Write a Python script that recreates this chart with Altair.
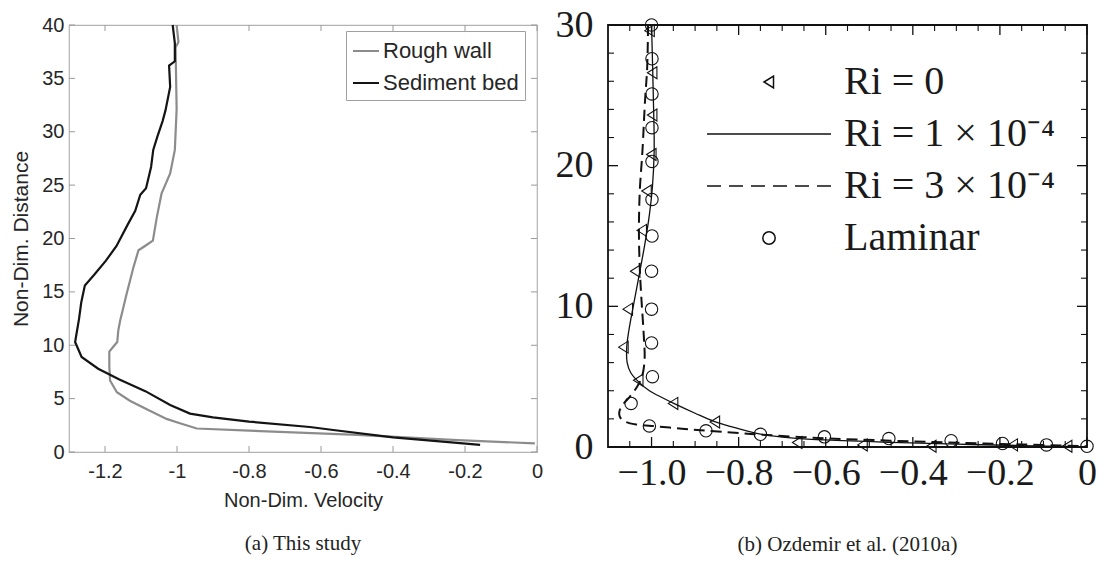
import altair as alt
import pandas as pd

# ---------------- (a) This study ----------------
rough_v = [-1.001, -0.996, -1.004, -1.003, -1.001, -1.006, -1.019, -1.043, -1.056, -1.067,
           -1.089, -1.107, -1.121, -1.140, -1.158, -1.163, -1.166, -1.181, -1.188, -1.188,
           -1.186, -1.167, -1.131, -1.084, -1.029, -0.992, -0.945, -0.800, -0.500, -0.220, -0.006]
rough_d = [40, 38.4, 37.9, 36.0, 32.1, 28.3, 26.1, 24.2, 22.0, 19.8,
           19.3, 18.9, 17.3, 14.8, 12.3, 11.4, 10.3, 9.7, 9.4, 8.0,
           6.7, 5.6, 4.8, 4.0, 3.1, 2.7, 2.2, 2.0, 1.6, 1.12, 0.8]

sed_v = [-1.012, -1.006, -1.006, -1.022, -1.019, -1.032, -1.040, -1.055, -1.066, -1.072,
         -1.086, -1.102, -1.116, -1.137, -1.168, -1.198, -1.230, -1.256, -1.266, -1.272,
         -1.279, -1.283, -1.265, -1.219, -1.160, -1.088, -1.019, -0.964, -0.900, -0.800,
         -0.631, -0.566, -0.400, -0.270, -0.158]
sed_d = [40, 38.3, 36.6, 36.2, 34.2, 32.0, 31.0, 29.5, 28.3, 26.7,
         24.7, 24.1, 22.6, 21.3, 19.3, 17.9, 16.6, 15.6, 14.0, 12.5,
         11.1, 10.3, 8.9, 7.8, 6.8, 5.7, 4.4, 3.6, 3.25, 2.85,
         2.34, 2.06, 1.37, 1.0, 0.66]

left_series = ["Rough wall", "Sediment bed"]
left_xticks = [-1.2, -1.0, -0.8, -0.6, -0.4, -0.2, 0.0]
left_yticks = [0, 5, 10, 15, 20, 25, 30, 35, 40]

# ---------------- (b) Ozdemir et al. (2010a) ----------------
ri0_v = [-1.004, -0.998, -0.998, -1.000, -1.011, -1.022, -1.037, -1.054, -1.064, -1.030,
         -0.950, -0.854, -0.665, -0.515, -0.357, -0.170, -0.045]
ri0_d = [29.6, 26.6, 23.6, 20.8, 18.2, 15.4, 12.5, 9.8, 7.1, 4.75,
         3.1, 1.78, 0.32, 0.15, 0.05, 0.15, 0.05]

ri1_v = [-1.000, -0.996, -0.994, -0.998, -1.005, -1.015, -1.028, -1.042, -1.052, -1.057,
         -1.056, -1.048, -1.032, -1.005, -0.975, -0.949, -0.900, -0.855, -0.800, -0.750,
         -0.680, -0.600, -0.450, -0.300, -0.150, 0.0]
ri1_d = [30, 25, 21, 18.5, 16.5, 14.5, 12.3, 10.0, 8.3, 7.1,
         6.0, 5.3, 4.7, 4.0, 3.5, 3.1, 2.4, 1.8, 1.3, 0.92,
         0.65, 0.5, 0.33, 0.2, 0.1, 0.0]

ri3_v = [-1.008, -1.010, -1.015, -1.021, -1.027, -1.029, -1.027, -1.023, -1.018, -1.016,
         -1.022, -1.035, -1.052, -1.066, -1.074, -1.072, -1.060, -1.035, -1.000, -0.930,
         -0.870, -0.750, -0.600, -0.450, -0.300, -0.150, 0.0]
ri3_d = [30, 27, 24.6, 21, 18.2, 15.4, 12.7, 10.4, 8.0, 6.2,
         5.0, 4.2, 3.5, 3.0, 2.5, 2.1, 1.8, 1.6, 1.5, 1.3,
         1.15, 0.88, 0.62, 0.45, 0.3, 0.18, 0.05]

lam_v = [-1.000, -0.999, -0.999, -0.999, -0.999, -0.999, -0.999, -1.000, -1.000, -1.000,
         -0.998, -1.047, -1.005, -0.875, -0.750, -0.603, -0.455, -0.312, -0.194, -0.093, 0.0]
lam_d = [30, 27.6, 25.1, 22.7, 20.3, 17.6, 15.0, 12.5, 9.8, 7.4,
         5.0, 3.1, 1.5, 1.15, 0.9, 0.72, 0.6, 0.45, 0.25, 0.15, 0.05]

right_labels = ["Ri = 0", "Ri = 1 × 10⁻⁴", "Ri = 3 × 10⁻⁴", "Laminar"]
right_xticks = [-1.0, -0.8, -0.6, -0.4, -0.2, 0.0]
right_xminor = [-1.05, -0.95, -0.9, -0.85, -0.75, -0.7, -0.65, -0.55, -0.5, -0.45,
                -0.35, -0.3, -0.25, -0.15, -0.1, -0.05]
right_yticks = [0, 10, 20, 30]
right_yminor = [2, 4, 6, 8, 12, 14, 16, 18, 22, 24, 26, 28]

# legend symbol paths (unit box -1..1 scaled by sqrt(size)/2)
TRI = "M-0.5,0L0.45,-0.6L0.45,0.6Z"
SOLID = "M-6.2,0H6.2"
DASH = "M-6.2,0H-4.8M-4.0,0H-2.6M-1.8,0H-0.4M0.4,0H1.8M2.6,0H4.0M4.8,0H6.2"
CIRC = "M0.62,0A0.62,0.62,0,1,1,-0.62,0A0.62,0.62,0,1,1,0.62,0Z"

SANS = "Liberation Sans"
SERIF = "Liberation Serif"
TXT = "#262626"
BLK = "#111111"

LW, LH = 468, 427   # left plot area
RW, RH = 479, 422   # right plot area


# frame ticks drawn as rules through the same scales (same field names so axes merge)
def x_tick_layers(vals, scale, h, size, color, width):
    df = pd.DataFrame({"v": vals})
    base = alt.Chart(df).mark_rule(color=color, strokeWidth=width)
    bottom = base.encode(x=alt.X("v:Q", scale=scale),
                         y=alt.value(h), y2=alt.value(h - size))
    top = base.encode(x=alt.X("v:Q", scale=scale),
                      y=alt.value(0), y2=alt.value(size))
    return [bottom, top]


def y_tick_layers(vals, scale, w, size, color, width):
    df = pd.DataFrame({"d": vals})
    base = alt.Chart(df).mark_rule(color=color, strokeWidth=width)
    left = base.encode(y=alt.Y("d:Q", scale=scale),
                       x=alt.value(0), x2=alt.value(size))
    right = base.encode(y=alt.Y("d:Q", scale=scale),
                        x=alt.value(w), x2=alt.value(w - size))
    return [left, right]


# ================= left panel =================
df_left = pd.DataFrame({
    "v": rough_v + sed_v,
    "d": rough_d + sed_d,
    "series": [left_series[0]] * len(rough_v) + [left_series[1]] * len(sed_v),
    "idx": list(range(len(rough_v))) + list(range(len(sed_v))),
})

xs_l = alt.Scale(domain=[-1.3, 0], nice=False, zero=False)
ys_l = alt.Scale(domain=[0, 40], nice=False, zero=False)

left_lines = alt.Chart(df_left).mark_line(strokeWidth=2.2).encode(
    x=alt.X("v:Q", scale=xs_l, axis=alt.Axis(
        orient="bottom", values=left_xticks, labelExpr="'' + datum.value",
        ticks=False, domain=False, grid=False, labelFont=SANS, labelFontSize=20,
        labelColor=TXT, labelPadding=9, labelFlush=False, labelOverlap=False,
        title="Non-Dim. Velocity", titleFont=SANS, titleFontSize=20,
        titleFontWeight="normal", titleColor=TXT, titlePadding=9)),
    y=alt.Y("d:Q", scale=ys_l, axis=alt.Axis(
        orient="left", values=left_yticks, ticks=False, domain=False, grid=False,
        labelFont=SANS, labelFontSize=20, labelColor=TXT, labelPadding=5,
        labelFlush=False, labelOverlap=False,
        title="Non-Dim. Distance", titleFont=SANS, titleFontSize=21,
        titleFontWeight="normal", titleColor=TXT, titlePadding=10)),
    color=alt.Color("series:N", scale=alt.Scale(domain=left_series, range=["#8c8c8c", "#141414"]),
                    legend=alt.Legend(title=None, orient="none", legendX=277, legendY=6,
                                      symbolType="stroke", symbolSize=676, symbolStrokeWidth=2,
                                      labelFont=SANS, labelFontSize=22, labelColor=TXT,
                                      strokeColor="#a0a0a0", fillColor="white", padding=6,
                                      rowPadding=7, labelOffset=3, cornerRadius=0,
                                      labelLimit=0)),
    order="idx:Q",
)

left_ticks = (x_tick_layers(left_xticks, xs_l, LH, 6, "#9a9a9a", 1)
              + y_tick_layers(left_yticks, ys_l, LW, 6, "#9a9a9a", 1))

left = alt.layer(left_lines, *left_ticks).properties(
    width=LW, height=LH,
    view=alt.ViewBackground(stroke="#b3b3b3", strokeWidth=1.2),
    title=alt.Title("(a) This study", orient="bottom", anchor="middle", frame="group",
                    font=SERIF, fontSize=21, fontWeight="normal", color="#222222", offset=23))

# ================= right panel =================
df_ri1 = pd.DataFrame({"v": ri1_v, "d": ri1_d, "idx": list(range(len(ri1_v)))})
df_ri3 = pd.DataFrame({"v": ri3_v, "d": ri3_d, "idx": list(range(len(ri3_v)))})
df_pts = pd.DataFrame({
    "v": ri0_v + lam_v,
    "d": ri0_d + lam_d,
    "series": [right_labels[0]] * len(ri0_v) + [right_labels[3]] * len(lam_v),
})

xs_r = alt.Scale(domain=[-1.1, 0], nice=False, zero=False)
ys_r = alt.Scale(domain=[0, 30], nice=False, zero=False)

solid = alt.Chart(df_ri1).mark_line(color=BLK, strokeWidth=1.3, interpolate="catmull-rom").encode(
    x=alt.X("v:Q", scale=xs_r, axis=alt.Axis(
        orient="bottom", values=right_xticks,
        labelExpr="datum.value == 0 ? '0' : format(datum.value, '.1f')",
        ticks=False, domain=False, grid=False, labelFont=SERIF, labelFontSize=38,
        labelColor="#1a1a1a", labelPadding=7, labelFlush=False, labelOverlap=False,
        title=None)),
    y=alt.Y("d:Q", scale=ys_r, axis=alt.Axis(
        orient="left", values=right_yticks, ticks=False, domain=False, grid=False,
        labelFont=SERIF, labelFontSize=38, labelColor="#1a1a1a", labelPadding=15,
        labelFlush=False, labelOverlap=False, title=None)),
    order="idx:Q",
)

dashed = alt.Chart(df_ri3).mark_line(color=BLK, strokeWidth=2, strokeDash=[11, 6],
                                     interpolate="catmull-rom").encode(
    x=alt.X("v:Q", scale=xs_r),
    y=alt.Y("d:Q", scale=ys_r),
    order="idx:Q",
)

points = alt.Chart(df_pts).mark_point(filled=False, size=400, color=BLK, strokeWidth=1.1,
                                      opacity=1).encode(
    x=alt.X("v:Q", scale=xs_r),
    y=alt.Y("d:Q", scale=ys_r),
    shape=alt.Shape("series:N", scale=alt.Scale(domain=right_labels, range=[TRI, SOLID, DASH, CIRC]),
                    legend=alt.Legend(title=None, orient="none", legendX=680, legendY=37,
                                      symbolSize=400, symbolStrokeColor=BLK,
                                      symbolFillColor="transparent", symbolStrokeWidth=1.5,
                                      labelFont=SERIF, labelFontSize=40, labelColor="#1a1a1a",
                                      labelOffset=55, rowPadding=12, padding=0, labelLimit=0)),
)

right_ticks = (x_tick_layers(right_xticks, xs_r, RH, 10, BLK, 1.3)
               + x_tick_layers(right_xminor, xs_r, RH, 6, BLK, 1.1)
               + y_tick_layers(right_yticks, ys_r, RW, 10, BLK, 1.3)
               + y_tick_layers(right_yminor, ys_r, RW, 6, BLK, 1.1))

right = alt.layer(solid, dashed, points, *right_ticks).properties(
    width=RW, height=RH,
    view=alt.ViewBackground(stroke=BLK, strokeWidth=1.8),
    title=alt.Title("(b) Ozdemir et al. (2010a)", orient="bottom", anchor="middle", frame="group",
                    font=SERIF, fontSize=21, fontWeight="normal", color="#222222", offset=42))

chart = alt.hconcat(left, right, spacing=71, bounds="flush").properties(
    padding={"left": 10, "top": 5, "right": 5, "bottom": 5},
    background="white",
)

chart.save("out.html", embed_options={"renderer": "svg", "actions": False})
